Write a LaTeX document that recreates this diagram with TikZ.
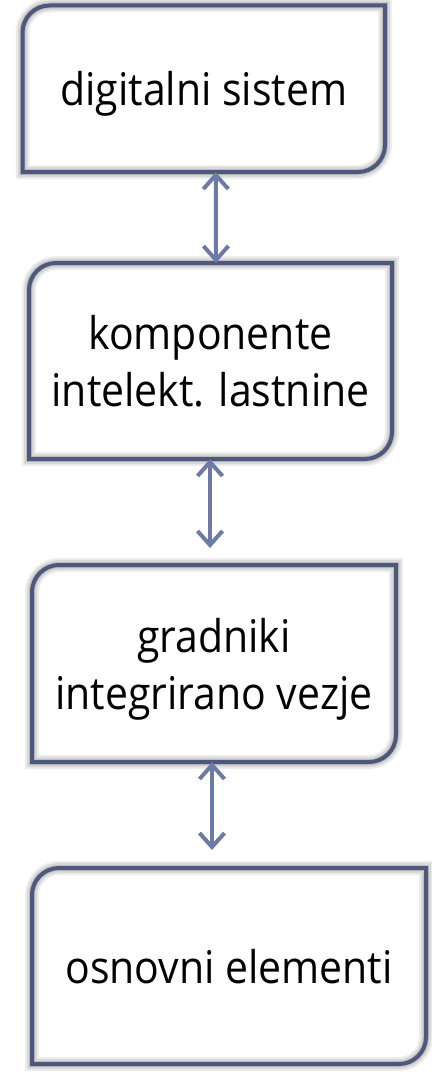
\documentclass[tikz,border=0pt]{standalone}
\usepackage{fontspec}
\setmainfont{Open Sans}[FakeStretch=0.91]
\usetikzlibrary{arrows.meta,calc}
\definecolor{boxedge}{RGB}{78,88,125}
\definecolor{linkblue}{RGB}{110,122,166}
\tikzset{
  level/.style={inner sep=0pt, outer sep=0pt, align=center, text depth=0pt, font=\fontsize{45}{57}\selectfont},
  boxline/.style={draw=boxedge, line width=4pt},
  haze/.style={draw=black, line width=#1},
  link/.style={draw=linkblue, line width=4pt, line cap=round,
    arrows={Straight Barb[length=14pt,width=25pt]-Straight Barb[length=14pt,width=25pt]}},
}
\begin{document}
\begin{tikzpicture}[x=1pt, y=-1pt]
	\useasboundingbox (0,0) rectangle (431,1073);
	\node[level, minimum width=362.5pt, minimum height=166.5pt] (b1) at (203.75,88.75) {digitalni sistem};
	\node[level, minimum width=363pt,   minimum height=196pt]   (b2) at (210.5,361)    {komponente\\intelekt. lastnine};
	\node[level, minimum width=364pt,   minimum height=197pt]   (b3) at (214,663.5)    {gradniki\\integrirano vezje};
	\node[level, minimum width=394pt,   minimum height=196pt]   (b4) at (229,966)      {osnovni elementi};
	\coordinate (e2) at (210,548);
	\coordinate (e3) at (212,850);
	% box outlines, soft shadow first
	\foreach \bx in {b1,b2,b3,b4} {
		\foreach \w/\o in {14/0.07, 10/0.09, 6/0.12}
			\draw[haze=\w pt, opacity=\o, shift={(-1pt,-6pt)}] let \p1=(\bx.north west), \p2=(\bx.south east) in
				(\x1,\y2) -- (\x1,\y1-27pt) arc[start angle=180, end angle=90, radius=27pt] -- (\x2,\y1)
				-- (\x2,\y2+27pt) arc[start angle=0, end angle=-90, radius=27pt] -- cycle;
		\draw[boxline] let \p1=(\bx.north west), \p2=(\bx.south east) in
			(\x1,\y2) -- (\x1,\y1-27pt) arc[start angle=180, end angle=90, radius=27pt] -- (\x2,\y1)
			-- (\x2,\y2+27pt) arc[start angle=0, end angle=-90, radius=27pt] -- cycle;
	}
	% links
	\draw[link] ([xshift=12pt]b1.south) -- ([xshift=5.5pt]b2.north);
	\draw[link] ([xshift=-0.5pt]b2.south) -- (e2);
	\draw[link] ([xshift=-2pt]b3.south) -- (e3);
\end{tikzpicture}
\end{document}
